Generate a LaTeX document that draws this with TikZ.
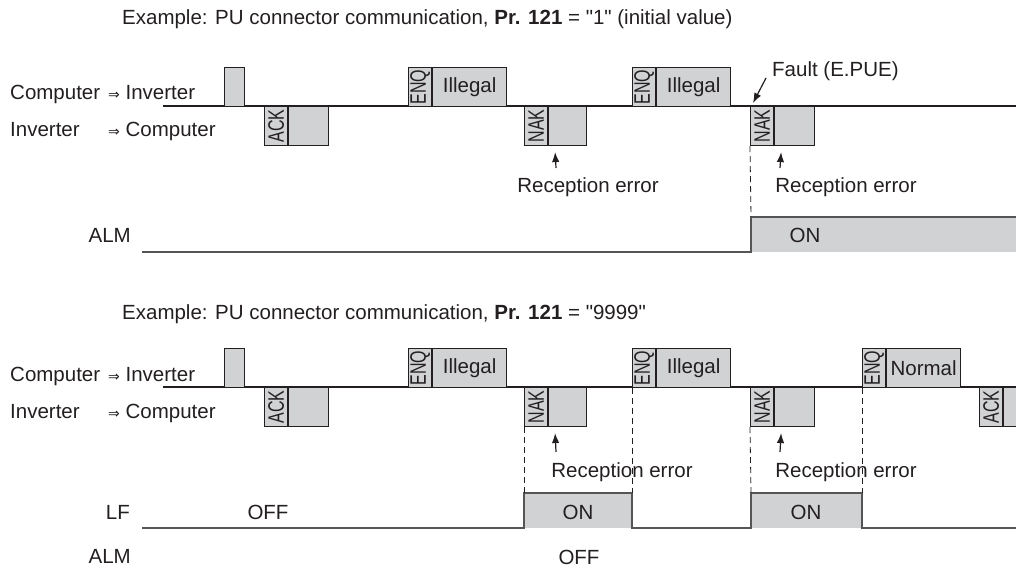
\documentclass[tikz,border=0pt]{standalone}
\usepackage{fontspec}
\setmainfont{Liberation Sans}[Ligatures=TeXOff]
\newfontfamily\arrowfont{DejaVu Sans}
\usepackage{graphicx}
\usepackage{xcolor}
\usetikzlibrary{arrows.meta, positioning}
\definecolor{sig}{HTML}{d1d2d4}
\definecolor{ink}{HTML}{231f20}
\definecolor{lvl}{HTML}{555555}
\newcommand{\dirto}{{\arrowfont\fontsize{14}{14}\selectfont ⇒}}
\newcommand{\vtag}[1]{\rotatebox{90}{\scalebox{1}[1.4]{#1}}}

\begin{document}
\begin{tikzpicture}[x=1pt, y=-1pt]
  \tikzstyle{txt}=[inner sep=0pt, font=\fontsize{20.5}{24}\selectfont, text=ink]
  \tikzstyle{tag}=[draw=ink, fill=sig, line width=1.1pt, minimum width=23pt,
                   minimum height=39pt, inner sep=0pt, anchor=north west,
                   font=\fontsize{16}{16}\selectfont, text=ink]
  \tikzstyle{body}=[draw=ink, fill=sig, line width=1.1pt, minimum height=39pt,
                   inner sep=0pt, anchor=north west,
                   font=\fontsize{20.5}{24}\selectfont, text=ink]
  \tikzstyle{wire}=[draw=ink, line width=1.2pt]
  \tikzstyle{level}=[draw=lvl, line width=1.6pt]
  \tikzstyle{guide}=[draw=ink, line width=0.8pt, dash pattern=on 6pt off 4pt]
  \tikzstyle{ptr}=[-{Latex[length=10pt,width=7.5pt]}, draw=ink, line width=1.2pt]

  \useasboundingbox (0,0) rectangle (1016,569);
  \clip (0,0) rectangle (1016,569);

  % titles
  \node[txt, anchor=base west](ttla) at (122,25)
    {Example: PU connector communication, \textbf{Pr. 121} = "1" (initial value)};
  \node[txt, anchor=base west](ttlb) at (122,319)
    {Example: PU connector communication, \textbf{Pr. 121} = "9999"};

  % parts common to both examples
  \foreach \s/\o/\t/\r in {a/0/168/588, b/281/452/622} {
    \node[txt, anchor=base west](cpu\s) at (10,100+\o) {Computer};
    \node[txt, anchor=base west](ci\s) at (108,100+\o) {\dirto\ Inverter};
    \node[txt, anchor=base west](inv\s) at (10,137+\o) {Inverter};
    \node[txt, anchor=base west](ic\s) at (108,137+\o) {\dirto\ Computer};

    \coordinate (ln0\s) at (163,106+\o);
    \coordinate (ln1\s) at (1016,106+\o);
    \draw[wire](ln0\s)--(ln1\s);

    \node[body, minimum width=20pt](st\s) at (224,67+\o) {};
    \node[tag](ack\s) at (264,106+\o) {\vtag{ACK}};
    \node[body, minimum width=40pt](ackd\s) at (ack\s.north east) {};
    \node[tag](enqa\s) at (408,67+\o) {\vtag{ENQ}};
    \node[body, minimum width=74pt](illa\s) at (enqa\s.north east) {Illegal};
    \node[tag](naka\s) at (524,106+\o) {\vtag{NAK}};
    \node[body, minimum width=38pt](nakd\s) at (naka\s.north east) {};
    \node[tag](enqb\s) at (632,67+\o) {\vtag{ENQ}};
    \node[body, minimum width=74pt](illb\s) at (enqb\s.north east) {Illegal};
    \node[tag](nakb\s) at (750,106+\o) {\vtag{NAK}};
    \node[body, minimum width=40pt](nake\s) at (nakb\s.north east) {};

    \node[txt, anchor=base](rxa\s) at (\r,\t+25) {Reception error};
    \node[txt, anchor=base](rxb\s) at (846,\t+25) {Reception error};
    \coordinate (pa\s) at (556,\t);
    \coordinate (pb\s) at (780,\t);
    \draw[ptr](pa\s)--([xshift=7pt, yshift=-6pt]nakd\s.south west);
    \draw[ptr](pb\s)--([xshift=7pt, yshift=-6pt]nake\s.south west);
  }

  % first example: fault and alarm
  \node[txt, anchor=base west](fault) at (772,77) {Fault (E.PUE)};
  \coordinate (ft) at (766,78);
  \draw[ptr](ft)--([xshift=3pt, yshift=3pt]nakba.north west);

  \node[txt, anchor=base east](alma) at (131,243) {ALM};
  \coordinate (al0) at (142,252);
  \coordinate (al1) at (751,252);
  \coordinate (al2) at (751,217);
  \coordinate (al3) at (1016,217);
  \fill[sig](al1) rectangle (al3);
  \draw[level](al0)--(al1)--(al2)--(al3);
  \node[txt, anchor=base](alon) at (805,243) {ON};
  \draw[guide](nakba.south west)--(al2);

  % second example: retry, LF and alarm
  \node[tag](enqc) at (862,348) {\vtag{ENQ}};
  \node[body, minimum width=74pt](norm) at (enqc.north east) {Normal};
  \node[tag](ackc) at (979,387) {\vtag{ACK}};
  \node[body, minimum width=40pt](ackcd) at (ackc.north east) {};

  \node[txt, anchor=base east](lf) at (130,519) {LF};
  \node[txt, anchor=base](lfoff) at (268,519) {OFF};
  \coordinate (lf0) at (142,528);
  \coordinate (lf1) at (524,528);
  \coordinate (lf2) at (524,493);
  \coordinate (lf3) at (632,493);
  \coordinate (lf4) at (632,528);
  \coordinate (lf5) at (751,528);
  \coordinate (lf6) at (751,493);
  \coordinate (lf7) at (862,493);
  \coordinate (lf8) at (862,528);
  \coordinate (lf9) at (1016,528);
  \fill[sig](lf1) rectangle (lf3);
  \fill[sig](lf5) rectangle (lf7);
  \draw[level](lf0)--(lf1)--(lf2)--(lf3)--(lf4)--(lf5)--(lf6)--(lf7)--(lf8)--(lf9);
  \node[txt, anchor=base](lfona) at (578,519) {ON};
  \node[txt, anchor=base](lfonb) at (806,519) {ON};

  \draw[guide](nakab.south west)--(lf2);
  \draw[guide](enqbb.south west)--(lf3);
  \draw[guide](nakbb.south west)--(lf6);
  \draw[guide](enqc.south west)--(lf7);

  \node[txt, anchor=base east](almb) at (131,563) {ALM};
  \node[txt, anchor=base](almoff) at (579,564) {OFF};
\end{tikzpicture}
\end{document}
